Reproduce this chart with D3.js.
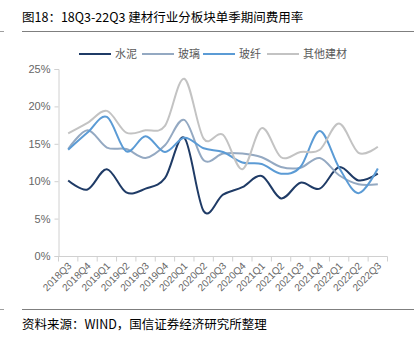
<!DOCTYPE html>
<html>
<head>
<meta charset="utf-8">
<script src="https://cdn.jsdelivr.net/npm/d3@7"></script>
<style>
  html, body { margin: 0; padding: 0; background: #fff; }
  svg { display: block; font-family: "Noto Sans CJK SC", "Noto Sans", sans-serif; }
</style>
</head>
<body>
<div id="chart"></div>
<script>
// data (%)
const quarters = ["2018Q3", "2018Q4", "2019Q1", "2019Q2", "2019Q3", "2019Q4", "2020Q1", "2020Q2", "2020Q3",
    "2020Q4", "2021Q1", "2021Q2", "2021Q3", "2021Q4", "2022Q1", "2022Q2", "2022Q3"];
const cement = [10.1, 8.9, 11.6, 8.5, 9.0, 10.4, 15.8, 6.0, 8.2, 9.2, 10.7, 7.7, 9.8, 9.0, 11.9, 10.1, 11.0];
const glass = [14.3, 16.8, 14.5, 14.3, 13.1, 14.8, 18.2, 12.8, 13.7, 13.7, 13.2, 11.9, 11.8, 13.1, 10.8, 9.6, 9.6];
const fiber = [14.2, 16.5, 18.6, 14.0, 16.0, 13.9, 15.8, 14.4, 13.9, 12.5, 12.3, 11.0, 11.9, 16.7, 11.8, 8.4, 11.7];
const others = [16.4, 17.8, 19.4, 16.5, 16.8, 17.4, 23.7, 15.7, 16.2, 11.6, 17.1, 13.2, 13.9, 14.2, 17.7, 13.8, 14.6];
const seriesNames = ["水泥", "玻璃", "玻纤", "其他建材"];
const yTicks = [0, 5, 10, 15, 20, 25];

const title = "图18：18Q3-22Q3 建材行业分板块单季期间费用率";
const source = "资料来源：WIND，国信证券经济研究所整理";

const W = 418, H = 337;
const colors = ["#1f3b66", "#94a9c2", "#5b9bd5", "#c3c3c3"];
const seriesData = [cement, glass, fiber, others];

const svg = d3.select("#chart").append("svg")
    .attr("width", W)
    .attr("height", H);

// title + rules
svg.append("text")
    .attr("x", 22)
    .attr("y", 22)
    .style("font-size", "12.5px")
    .attr("fill", "#000")
    .text(title);

[31.5, 309.5].forEach(y => {
    svg.append("line")
        .attr("x1", 22).attr("x2", 414)
        .attr("y1", y).attr("y2", y)
        .attr("stroke", "#7f7f7f").attr("stroke-width", 1);
    svg.append("line")
        .attr("x1", 0).attr("x2", 4)
        .attr("y1", y).attr("y2", y)
        .attr("stroke", "#9f9f9f").attr("stroke-width", 1);
});

svg.append("text")
    .attr("x", 22)
    .attr("y", 329)
    .style("font-size", "12.5px")
    .attr("fill", "#000")
    .text(source);

// scales
const x = d3.scaleBand()
    .domain(quarters)
    .range([58.5, 387.5]);

const y = d3.scaleLinear()
    .domain([0, 25])
    .range([256, 69]);

// axes
const yAxis = svg.append("g")
    .attr("transform", "translate(58.5,0)")
    .call(d3.axisLeft(y).tickValues(yTicks).tickSize(4).tickFormat(d => d + "%"));
yAxis.select(".domain").attr("stroke", "#d0d0d0");
yAxis.selectAll(".tick line").attr("stroke", "#d0d0d0");
yAxis.selectAll(".tick text")
    .attr("x", -8)
    .attr("fill", "#666")
    .style("font-size", "11px")
    .style("font-family", "Arial, 'Liberation Sans', sans-serif");

const xAxis = svg.append("g")
    .attr("transform", "translate(0,256.5)");
xAxis.append("line")
    .attr("x1", x.range()[0]).attr("x2", x.range()[1])
    .attr("stroke", "#d0d0d0");
xAxis.selectAll(".xtick")
    .data(quarters.concat(["end"]))
    .join("line")
    .attr("class", "xtick")
    .attr("x1", (d, i) => x.range()[0] + i * x.step())
    .attr("x2", (d, i) => x.range()[0] + i * x.step())
    .attr("y1", 0).attr("y2", 5)
    .attr("stroke", "#d0d0d0");
xAxis.selectAll(".xlab")
    .data(quarters)
    .join("text")
    .attr("class", "xlab")
    .attr("text-anchor", "end")
    .attr("transform", d => `translate(${x(d) + x.bandwidth() / 2 + 4},${10}) rotate(-45)`)
    .attr("fill", "#666")
    .style("font-size", "10px")
    .style("font-family", "Arial, 'Liberation Sans', sans-serif")
    .text(d => d);

// lines
const line = d3.line()
    .x((d, i) => x(quarters[i]) + x.bandwidth() / 2)
    .y(d => y(d))
    .curve(d3.curveCardinal.tension(0));

seriesData.forEach((vals, k) => {
    svg.append("path")
        .datum(vals)
        .attr("fill", "none")
        .attr("stroke", colors[k])
        .attr("stroke-width", 2)
        .attr("d", line);
});

// legend
const legendX = [79, 142, 203, 267];
seriesNames.forEach((name, i) => {
    svg.append("line")
        .attr("x1", legendX[i]).attr("x2", legendX[i] + 32)
        .attr("y1", 54).attr("y2", 54)
        .attr("stroke", colors[i])
        .attr("stroke-width", 2);
    svg.append("text")
        .attr("x", legendX[i] + 36)
        .attr("y", 58)
        .attr("fill", "#595959")
        .style("font-size", "11px")
        .text(name);
});
</script>
</body>
</html>
